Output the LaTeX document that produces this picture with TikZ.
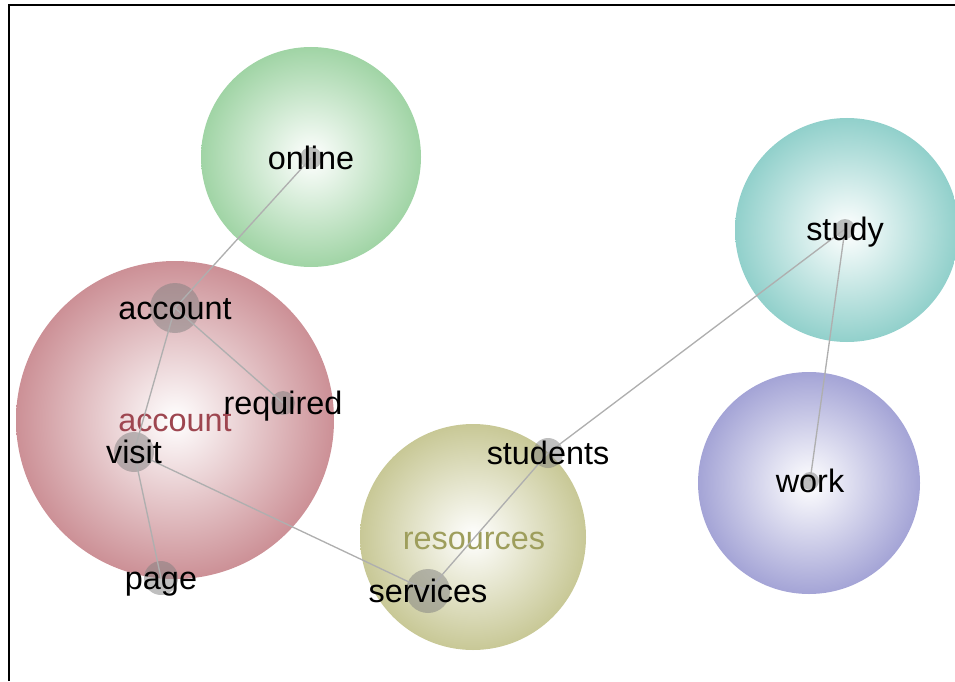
\documentclass[tikz,border=0pt]{standalone}
\usepackage{fontspec}
\setmainfont{Liberation Sans}
\definecolor{cgreen}{RGB}{160,212,165}
\definecolor{cred}{RGB}{204,144,150}
\definecolor{colive}{RGB}{200,200,150}
\definecolor{cteal}{RGB}{145,208,203}
\definecolor{cpurple}{RGB}{164,164,214}
\definecolor{credtext}{RGB}{158,70,80}
\definecolor{colivetext}{RGB}{158,158,92}
\definecolor{linkgray}{RGB}{175,175,175}
\begin{document}
\begin{tikzpicture}[x=0.75pt,y=-0.75pt,
  bubble/.style={circle, draw=none, inner sep=0pt, shading=radial, inner color=white, outer color=#1},
  dot/.style={circle, draw=none, inner sep=0pt, fill=gray, fill opacity=0.5},
  word/.style={inner sep=0pt, font=\fontsize{24.3}{28}\selectfont, text height=22pt, text depth=4.4pt},
  link/.style={draw=linkgray, line width=1pt},
  frame/.style={draw=black, line width=1.5pt}
]
\useasboundingbox (0,0) rectangle (955,681);
% bubbles
\node[bubble=cgreen, minimum size=165pt] (bOnline) at (311,157) {};
\node[bubble=cred, minimum size=238.5pt] (bAccount) at (175,420) {};
\node[bubble=colive, minimum size=169.5pt] (bResources) at (473,537) {};
\node[bubble=cteal, minimum size=168pt] (bStudy) at (847,230) {};
\node[bubble=cpurple, minimum size=166.5pt] (bWork) at (809,483) {};
% cluster labels
\node[word, text=credtext] (cAccount) at (bAccount) {account};
\node[word, text=colivetext] (cResources) at (474,538) {resources};
% dots
\node[dot, minimum size=16.5pt] (online) at (311,158) {};
\node[dot, minimum size=37.5pt] (account) at (175,308) {};
\node[dot, minimum size=18pt] (required) at (283,403) {};
\node[dot, minimum size=30pt] (visit) at (134,452) {};
\node[dot, minimum size=25.5pt] (page) at (161,578) {};
\node[dot, minimum size=22.5pt] (students) at (548,453) {};
\node[dot, minimum size=33pt] (services) at (428,591) {};
\node[dot, minimum size=15pt] (study) at (845,229) {};
\node[dot, minimum size=13.5pt] (work) at (810,481) {};
% links
\draw[link] (online.center) -- (account.center);
\draw[link] (account.center) -- (required.center);
\draw[link] (account.center) -- (visit.center);
\draw[link] (visit.center) -- (page.center);
\draw[link] (visit.center) -- (services.center);
\draw[link] (services.center) -- (students.center);
\draw[link] (students.center) -- (study.center);
\draw[link] (study.center) -- (work.center);
% labels
\node[word] (lOnline) at (online) {online};
\node[word] (lAccount) at (account) {account};
\node[word] (lRequired) at (required) {required};
\node[word] (lVisit) at (visit) {visit};
\node[word] (lPage) at (page) {page};
\node[word] (lStudents) at (students) {students};
\node[word] (lServices) at (services) {services};
\node[word] (lStudy) at (study) {study};
\node[word] (lWork) at (work) {work};
% frame
\coordinate (fBL) at (8.5,681);
\coordinate (fTL) at (8.5,5.5);
\coordinate (fTR) at (955,5.5);
\draw[frame] (fBL) -- (fTL) -- (fTR);
\end{tikzpicture}
\end{document}
